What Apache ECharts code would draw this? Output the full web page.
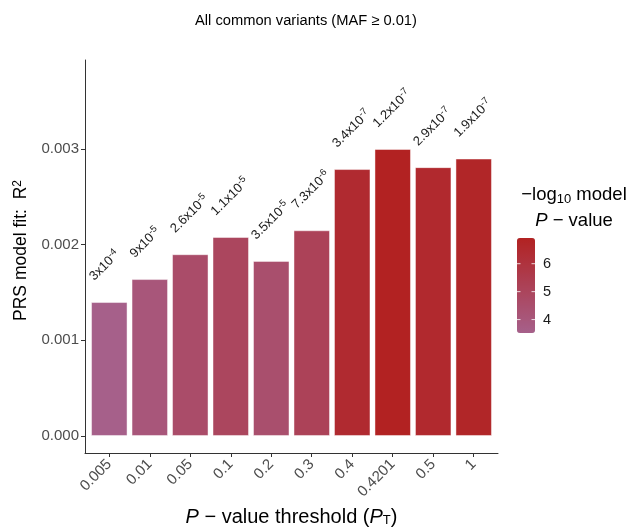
<!DOCTYPE html>
<html>
<head>
<meta charset="utf-8">
<script src="https://cdn.jsdelivr.net/npm/echarts@6/dist/echarts.min.js"></script>
<style>
  html, body { margin: 0; padding: 0; background: #fff; }
  #chart { width: 632px; height: 528px; }
</style>
</head>
<body>
<div id="chart"></div>
<script>
const thresholds = ['0.005', '0.01', '0.05', '0.1', '0.2', '0.3', '0.4', '0.4201', '0.5', '1'];
const r2 = [0.00140, 0.00164, 0.00190, 0.00208, 0.00183, 0.00215, 0.00279, 0.00300, 0.00281, 0.00290];
const pMantissa = ['3', '9', '2.6', '1.1', '3.5', '7.3', '3.4', '1.2', '2.9', '1.9'];
const pExponent = ['-4', '-5', '-5', '-5', '-5', '-6', '-7', '-7', '-7', '-7'];
const negLogP = [3.52, 4.05, 4.59, 4.96, 4.46, 5.14, 6.47, 6.92, 6.54, 6.72];
const yTicks = [0, 0.001, 0.002, 0.003];
const legendTicks = [4, 5, 6];

const FONT = '"Liberation Sans", Arial, sans-serif';
const lowColor = '#A6608A';
const highColor = '#B22222';

// colourbar geometry (legend only)
const cbLeft = 517, cbTop = 238, cbW = 18, cbH = 95;
const cbMin = 3.52, cbMax = 6.92;
const cbY = (v) => cbTop + cbH - (v - cbMin) / (cbMax - cbMin) * cbH;

const legendGraphics = [];
legendTicks.forEach((v) => {
  const y = cbY(v);
  legendGraphics.push(
    { type: 'line', z: 100, shape: { x1: cbLeft, y1: y, x2: cbLeft + 3.5, y2: y }, style: { stroke: 'rgba(255,255,255,0.8)', lineWidth: 1 } },
    { type: 'line', z: 100, shape: { x1: cbLeft + cbW - 3.5, y1: y, x2: cbLeft + cbW, y2: y }, style: { stroke: 'rgba(255,255,255,0.8)', lineWidth: 1 } },
    { type: 'text', z: 100, x: 543, y: y, style: { text: String(v), font: '14.5px ' + FONT, fill: '#1a1a1a', verticalAlign: 'middle', align: 'left' } }
  );
});

const chart = echarts.init(document.getElementById('chart'));

chart.setOption({
  backgroundColor: '#fff',
  animation: false,
  textStyle: { fontFamily: FONT },
  title: {
    text: 'All common variants (MAF \u2265 0.01)',
    left: 190,
    top: 8,
    textStyle: { fontSize: 14.7, fontWeight: 'normal', color: '#000', fontFamily: FONT },
  },
  grid: { left: 85, right: 134, top: 60, bottom: 75, containLabel: false, outerBoundsMode: 'none' },
  xAxis: {
    type: 'value',
    min: -0.6,
    max: 9.6,
    splitLine: { show: false },
    axisLine: { show: true, onZero: false, lineStyle: { color: '#333', width: 1 } },
    axisTick: { show: true, customValues: thresholds.map((_, i) => i), length: 4, lineStyle: { color: '#333' } },
    axisLabel: {
      customValues: thresholds.map((_, i) => i),
      formatter: (v) => thresholds[Math.round(v)],
      rotate: 45,
      margin: 9,
      fontSize: 15,
      color: '#4D4D4D',
      fontFamily: FONT,
    },
    name: '{i|P} \u2212 value threshold ({i|P}{sub|T})',
    nameLocation: 'middle',
    nameGap: 54,
    nameTextStyle: {
      fontSize: 20,
      color: '#000',
      fontFamily: FONT,
      rich: {
        i: { fontSize: 20, fontStyle: 'italic', fontFamily: FONT, color: '#000' },
        sub: { fontSize: 13, fontFamily: FONT, color: '#000', padding: [7, 0, 0, 0] },
      },
    },
  },
  yAxis: {
    type: 'value',
    min: -0.000178,
    max: 0.00393,
    splitLine: { show: false },
    axisLine: { show: true, onZero: false, lineStyle: { color: '#333', width: 1 } },
    axisTick: { show: true, customValues: yTicks, length: 4, lineStyle: { color: '#333' } },
    axisLabel: {
      customValues: yTicks,
      formatter: (v) => v.toFixed(3),
      fontSize: 15,
      color: '#4D4D4D',
      margin: 6,
      fontFamily: FONT,
    },
    name: 'PRS model fit:  R{sup|2}',
    nameLocation: 'middle',
    nameGap: 50,
    nameTextStyle: {
      fontSize: 17.5,
      color: '#000',
      fontFamily: FONT,
      padding: [0, 0, 0, 12],
      rich: {
        sup: { fontSize: 12, fontFamily: FONT, color: '#000', padding: [0, 0, 8, 0] },
      },
    },
  },
  visualMap: {
    type: 'continuous',
    dimension: 2,
    min: cbMin,
    max: cbMax,
    calculable: false,
    realtime: false,
    hoverLink: false,
    left: cbLeft - 15,
    top: cbTop - 15,
    itemWidth: cbW,
    itemHeight: cbH,
    text: null,
    inRange: { color: [lowColor, highColor] },
    textStyle: { color: 'transparent' },
  },
  graphic: [
    {
      type: 'text',
      x: 574,
      y: 195,
      style: {
        text: '\u2212log{sub|10} model',
        font: '18.5px ' + FONT,
        fill: '#000',
        align: 'center',
        verticalAlign: 'middle',
        rich: {
          sub: { fontSize: 13, fontFamily: FONT, fill: '#000', padding: [9, 0, 0, 0] },
        },
      },
    },
    {
      type: 'text',
      x: 574,
      y: 221,
      style: {
        text: '{i|P} \u2212 value',
        font: '18.5px ' + FONT,
        fill: '#000',
        align: 'center',
        verticalAlign: 'middle',
        rich: {
          i: { fontSize: 18.5, fontStyle: 'italic', fontFamily: FONT, fill: '#000' },
        },
      },
    },
  ].concat(legendGraphics),
  series: [
    {
      type: 'bar',
      barWidth: 36.5,
      data: r2.map((v, i) => [i, v, negLogP[i]]),
      itemStyle: { borderColor: 'rgba(255,255,255,0.45)', borderWidth: 1 },
      label: {
        show: true,
        position: 'top',
        distance: 0,
        rotate: 45,
        align: 'left',
        verticalAlign: 'bottom',
        offset: [4.2, -20.5],
        formatter: (p) => pMantissa[p.dataIndex] + 'x10{sup|' + pExponent[p.dataIndex] + '}',
        fontSize: 13,
        color: '#1a1a1a',
        fontFamily: FONT,
        rich: {
          sup: { fontSize: 9.5, fontFamily: FONT, color: '#1a1a1a', padding: [0, 0, 7, 0] },
        },
      },
    },
  ],
});
</script>
</body>
</html>
